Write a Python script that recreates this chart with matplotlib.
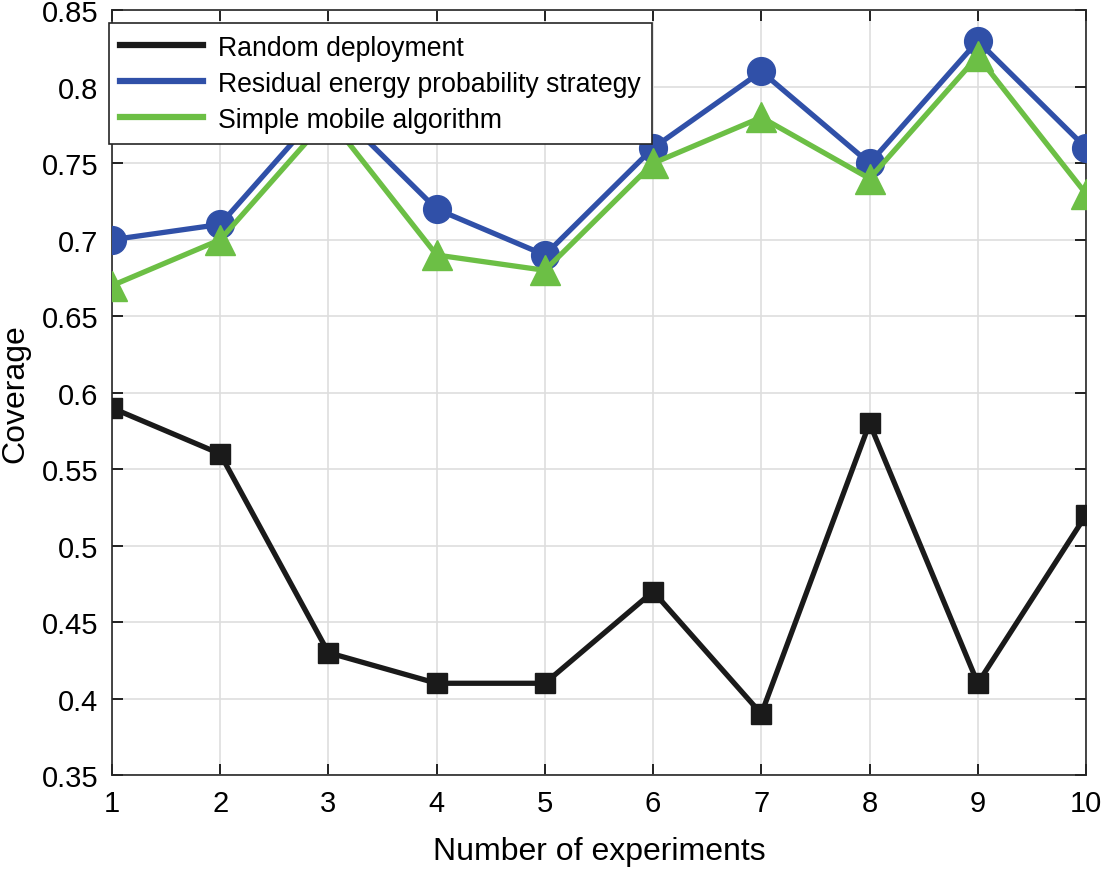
import matplotlib
matplotlib.use("Agg")
import matplotlib.pyplot as plt
from matplotlib.lines import Line2D

plt.rcParams['font.family'] = ['Liberation Sans', 'DejaVu Sans']

experiments = [1, 2, 3, 4, 5, 6, 7, 8, 9, 10]
random_deploy = [0.59, 0.56, 0.43, 0.41, 0.41, 0.47, 0.39, 0.58, 0.41, 0.52]
residual_energy = [0.70, 0.71, 0.79, 0.72, 0.69, 0.76, 0.81, 0.75, 0.83, 0.76]
simple_mobile = [0.67, 0.70, 0.78, 0.69, 0.68, 0.75, 0.78, 0.74, 0.82, 0.73]
labels = ["Random deployment", "Residual energy probability strategy", "Simple mobile algorithm"]

black = "#1a1a1a"
blue = "#3050a8"
green = "#6cbf45"

fig = plt.figure(figsize=(11.01, 8.7), dpi=100)
ax = fig.add_axes([0.1017, 0.108, 0.8847, 0.879])

ax.plot(experiments, random_deploy, color=black, lw=3.8, marker='s', ms=14, zorder=3)
ax.plot(experiments, residual_energy, color=blue, lw=3.8, marker='o', ms=20, zorder=3)
ax.plot(experiments, simple_mobile, color=green, lw=3.8, marker='^', ms=21, zorder=4)

ax.set_xlim(1, 10)
ax.set_ylim(0.35, 0.85)
ax.set_xticks(experiments)
ax.set_yticks([0.35, 0.4, 0.45, 0.5, 0.55, 0.6, 0.65, 0.7, 0.75, 0.8, 0.85])
ax.set_yticklabels(["0.35", "0.4", "0.45", "0.5", "0.55", "0.6", "0.65", "0.7", "0.75", "0.8", "0.85"])
ax.tick_params(direction='in', top=True, right=True, labelsize=21, length=8, width=1.2, pad=10)
ax.grid(True, color='#dedede', lw=1.2)
ax.set_axisbelow(True)
for s in ax.spines.values():
    s.set_linewidth(1.2)
    s.set_color('#262626')

ax.set_xlabel("Number of experiments", fontsize=23, labelpad=14)
ax.set_ylabel("Coverage", fontsize=23, labelpad=8)

handles = [Line2D([0], [0], color=c, lw=4.5) for c in (black, blue, green)]
leg = ax.legend(handles, labels, loc='upper left', bbox_to_anchor=(-0.003, 0.983),
                borderaxespad=0, fontsize=19.2, frameon=True, fancybox=False,
                framealpha=1, edgecolor='#262626', handlelength=3.1,
                handletextpad=0.55, labelspacing=0.38, borderpad=0.42)
leg.get_frame().set_linewidth(1.2)
leg.set_zorder(10)

fig.savefig("out.png", dpi=100)
